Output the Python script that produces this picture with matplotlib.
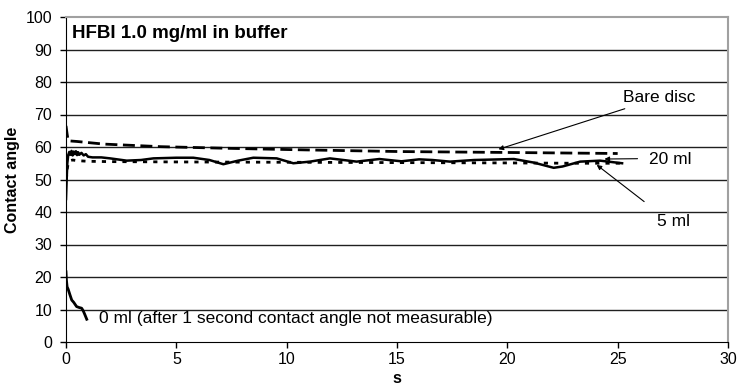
import matplotlib
matplotlib.use("Agg")
import matplotlib.pyplot as plt

plt.rcParams['font.family'] = ['Liberation Sans', 'DejaVu Sans']

# Bare disc (dashed)
bare_t = [0, 0.05, 0.1, 0.5, 1.7, 4.3, 7.3, 10.9, 15.1, 20.3, 25.0]
bare_v = [66.5, 64.0, 61.9, 61.7, 60.9, 60.1, 59.6, 59.1, 58.6, 58.3, 58.0]

# 20 ml (solid)
ml20_t = [0, 0.03, 0.06, 0.1, 0.15, 0.2, 0.25, 0.3, 0.35, 0.4, 0.45, 0.5, 0.55,
          0.6, 0.7, 0.8, 0.9, 1.0, 1.2, 1.6, 2.0, 2.75, 3.4, 3.96, 5.0, 5.77,
          6.5, 7.13, 7.8, 8.49, 9.55, 10.3, 11.06, 11.96, 13.17, 14.2, 15.2,
          16.0, 16.6, 17.4, 18.5, 20.3, 21.2, 22.1, 22.5, 23.3, 24.2, 25.2]
ml20_v = [44.0, 50.0, 55.0, 57.5, 58.5, 57.6, 58.8, 57.4, 58.6, 57.8, 58.7, 57.5,
          58.4, 57.6, 58.2, 57.4, 57.8, 57.0, 56.8, 56.8, 56.5, 55.8, 56.0, 56.5,
          56.7, 56.7, 56.0, 54.7, 55.8, 56.7, 56.5, 55.0, 55.5, 56.5, 55.5, 56.3,
          55.6, 56.2, 56.0, 55.5, 56.0, 56.3, 55.2, 53.6, 54.0, 55.5, 55.8, 55.0]

# 5 ml (dotted)
ml5_t = [0.02, 0.05, 0.1, 0.2, 0.3, 0.5, 1, 2, 5, 10, 15, 20, 23, 25.1]
ml5_v = [50.0, 53.0, 55.0, 55.8, 56.0, 55.8, 55.6, 55.5, 55.4, 55.3, 55.2, 55.1, 55.0, 55.0]

# 0 ml (only the first second is measurable)
ml0_t = [0, 0.02, 0.05, 0.1, 0.18, 0.26, 0.35, 0.48, 0.6, 0.71, 0.78, 0.85, 0.94]
ml0_v = [21.6, 19.0, 17.0, 16.2, 14.5, 12.9, 12.2, 10.9, 10.6, 10.4, 9.6, 8.5, 7.0]

x_ticks = [0, 5, 10, 15, 20, 25, 30]
y_ticks = [0, 10, 20, 30, 40, 50, 60, 70, 80, 90, 100]

fig = plt.figure(figsize=(7.39, 3.89), dpi=100)
ax = fig.add_axes([66 / 739, 47 / 389, 662 / 739, 325 / 389])

for y in y_ticks[1:-1]:
    ax.axhline(y, color='#202020', lw=1.0, zorder=1)

ax.plot(bare_t, bare_v, color='black', lw=2.0, dashes=(4.3, 2.0), zorder=3)
ax.plot(ml20_t, ml20_v, color='black', lw=1.8, zorder=3)
ax.plot(ml5_t, ml5_v, color='black', lw=2.0, dashes=(1.5, 2.2), zorder=3)
ax.plot(ml0_t, ml0_v, color='black', lw=2.0, zorder=3)

ax.set_xlim(0, 30)
ax.set_ylim(0, 100)
ax.set_xticks(x_ticks)
ax.set_yticks(y_ticks)
ax.tick_params(labelsize=11.5, length=4, width=1, direction='out')
ax.tick_params(axis='y', pad=6)
ax.tick_params(axis='x', pad=3)

ax.spines['left'].set_color('black')
ax.spines['bottom'].set_color('black')
ax.spines['top'].set_color('#a0a0a0')
ax.spines['right'].set_color('#a0a0a0')
ax.spines['top'].set_linewidth(1.5)
ax.spines['right'].set_linewidth(1.5)

ax.set_xlabel('s', fontsize=11.5, fontweight='bold', labelpad=3)
ax.set_ylabel('Contact angle', fontsize=11.5, fontweight='bold', labelpad=4)

ax.text(0.25, 94.8, 'HFBI 1.0 mg/ml in buffer', fontsize=13.5, fontweight='bold',
        va='center', ha='left')

arrow = dict(arrowstyle='-|>', color='black', lw=0.8, mutation_scale=7,
             shrinkA=0, shrinkB=0)
ax.annotate('Bare disc', xy=(19.6, 59.3), xytext=(25.25, 75.2), fontsize=12.5,
            va='center', ha='left',
            arrowprops=dict(arrow, shrinkA=2))
ax.annotate('', xy=(24.4, 56.3), xytext=(25.9, 56.4), arrowprops=arrow)
ax.text(26.4, 56.0, '20 ml', fontsize=12.5, va='center', ha='left')
ax.annotate('', xy=(24.05, 54.5), xytext=(26.2, 43.2), arrowprops=arrow)
ax.text(26.8, 37.0, '5 ml', fontsize=12.5, va='center', ha='left')
ax.text(1.5, 7.3, '0 ml (after 1 second contact angle not measurable)',
        fontsize=12.5, va='center', ha='left')

fig.savefig('out.png', dpi=100)
